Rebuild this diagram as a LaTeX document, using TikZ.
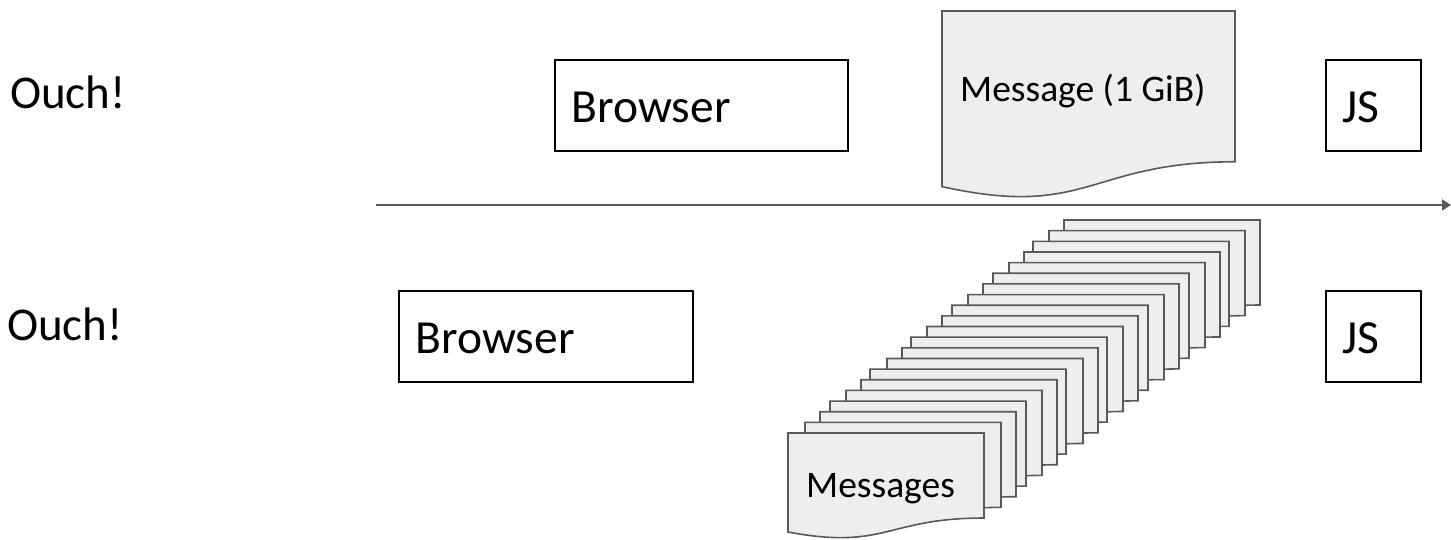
\documentclass[tikz,border=0pt]{standalone}
\usepackage{fontspec}
\setmainfont{Carlito}
\usetikzlibrary{arrows.meta}
\usetikzlibrary{positioning}

\definecolor{docfill}{RGB}{238,238,238}
\definecolor{docline}{RGB}{89,89,89}

% document shape: x, y (top left), width, height
\newcommand{\docshape}[4]{%
  \draw[doc] (#1,#2) -- ({#1+#3},#2) -- ({#1+#3},{#2+0.802*#4})
    .. controls ({#1+0.5*#3},{#2+0.802*#4}) and ({#1+0.5*#3},{#2+1.1075*#4}) .. (#1,{#2+0.934*#4}) -- cycle;}

\begin{document}
\begin{tikzpicture}[x=1pt, y=-1pt,
    box/.style={draw=black, line width=1.5pt, inner xsep=17pt, inner ysep=0pt, align=left,
      text height=63pt, text depth=28pt, anchor=north west, font=\fontsize{47.5}{50}\selectfont},
    ouch/.style={anchor=base west, inner sep=0pt, font=\fontsize{47}{50}\selectfont},
    msgtext/.style={anchor=base west, inner sep=0pt, font=\fontsize{37.5}{40}\selectfont},
    doc/.style={draw=docline, fill=docfill, line width=1.6pt},
    timeline/.style={draw=docline, line width=2pt, -{Triangle[length=9pt,width=11pt]}}]

      \useasboundingbox (0,0) rectangle (1451,539);

      % Upper case: one big message
      \node[ouch] (ouch1) at (10,108) {Ouch!};
      \node[box, text width=259pt] (browser1) at (554,59) {Browser};
      \node[box, text width=61pt] (js1) at (1325,59) {JS};
      \docshape{942}{11}{293}{188}
      \node[msgtext] (msg) at (960,101) {Message (1 GiB)};

      % Time axis
      \coordinate (tstart) at (376,205);
      \coordinate (tend) at (1451,205);
      \draw[timeline] (tstart) -- (tend);

      % Lower case: many small messages
      \node[ouch] (ouch2) at (7,340) {Ouch!};
      \node[box, text width=260pt] (browser2) at (398,290) {Browser};
      \node[box, text width=61pt] (js2) at (1325,290) {JS};

      % Size of one small message
      \def\sw{196}
      \def\sh{106}

      % Stack of messages, back to front
      \foreach \sx [count=\k from 0] in {1064,1049,1033,1024,1009,993,983,968,952,942,927,911,902,887,870,861,846,830,820,805,788} {
        \pgfmathsetmacro\sy{220+\k*10.65}
        \docshape{\sx}{\sy}{\sw}{\sh}
      }
      \node[msgtext] (msgs) at (806,497) {Messages};

    \end{tikzpicture}
\end{document}
